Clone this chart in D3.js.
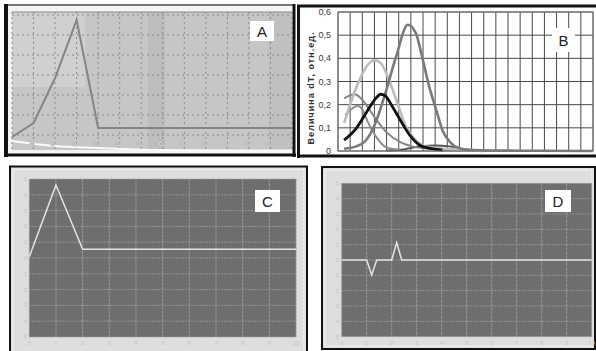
<!DOCTYPE html>
<html>
<head>
<meta charset="utf-8">
<script src="https://cdn.jsdelivr.net/npm/d3@7"></script>
<style>
  html, body { margin: 0; padding: 0; background: #fff; }
  svg { display: block; font-family: "Liberation Sans", Arial, sans-serif; }
</style>
</head>
<body>
<svg id="chart" width="596" height="351"></svg>
<script>
// ---- data ----
// panel A: response line, white base line, tick markers along the bottom
const aX = [0, 1, 2, 3, 4, 13];
const aY = [-0.1, 0.6, 2.85, 5.75, 0.35, 0.35];
const aBaseX = [0, 2, 4, 6.7, 13];
const aBaseY = [-0.3, -0.55, -0.65, -0.75, -0.78];
const aMarks = [0.93, 1.9, 2.9, 3.9, 4.9, 5.9, 6.9, 7.9, 8.9, 9.9, 10.9, 11.9, 12.9];

// panel B: dT curves
const bTicks = [0, 0.1, 0.2, 0.3, 0.4, 0.5, 0.6];
const bTickLabels = ["0", "0,1", "0,2", "0,3", "0,4", "0,5", "0,6"];
const bBigX = [0.5, 1.5, 2.2, 3, 3.9, 4.8, 5.75, 6.4, 7, 7.5, 8.1, 8.6, 9.2, 10, 11, 13, 16, 21];
const bBigY = [0.01, 0.02, 0.04, 0.11, 0.25, 0.41, 0.545, 0.51, 0.39, 0.28, 0.175, 0.09, 0.04, 0.012, 0.004, 0.002, 0.001, 0];
const bLightX = [0.5, 1.76, 2.44, 3, 3.54, 4.1, 4.8, 5.6, 6.4, 7.25, 8.35, 10.5, 12];
const bLightY = [0.12, 0.306, 0.371, 0.393, 0.378, 0.32, 0.22, 0.105, 0.047, 0.019, 0.012, 0.006, 0];
const bBlackX = [0.5, 1.5, 2.3, 3, 3.54, 3.95, 4.5, 5.2, 5.9, 6.7, 7.5, 8.6];
const bBlackY = [0.047, 0.098, 0.163, 0.22, 0.245, 0.235, 0.19, 0.127, 0.069, 0.026, 0.012, 0.004];
const bMid1X = [0.5, 1.35, 1.9, 2.44, 3.27, 4.1, 5.05, 6.15, 7.5, 9.2];
const bMid1Y = [0.227, 0.245, 0.227, 0.19, 0.127, 0.076, 0.04, 0.019, 0.009, 0.004];
const bMid2X = [0.6, 1.62, 2.03, 2.44, 3.13, 3.95, 5.05];
const bMid2Y = [0.155, 0.194, 0.177, 0.127, 0.062, 0.017, 0.006];
const bLowX = [4, 5.5, 6.8, 8, 9.2, 10.3, 12];
const bLowY = [0.002, 0.008, 0.02, 0.024, 0.02, 0.005, 0.001];

// panel C
const cX = [0, 1, 2, 10];
const cY = [0.08, 4.62, 0.55, 0.55];

// panel D
const dX = [0, 1, 1.2, 1.4, 2, 2.2, 2.4, 10];
const dY = [0, 0, -0.97, 0, 0, 1.13, 0, 0];

const ticks10 = d3.range(0, 11);
const ticksPm5 = d3.range(-5, 6);

const svg = d3.select("#chart");

function zip(xs, ys) { return xs.map((x, i) => ({x, y: ys[i]})); }

function labelBox(g, x, y, w, h, txt) {
    g.append("rect").attr("x", x).attr("y", y).attr("width", w).attr("height", h).attr("fill", "#fff");
    g.append("text").attr("x", x + w / 2).attr("y", y + h / 2 + 5.5)
        .attr("text-anchor", "middle").attr("font-size", "15px").attr("fill", "#222").text(txt);
}

// ---------- panel A ----------
const gA = svg.append("g");
const xA = d3.scaleLinear().domain([0, 13]).range([12, 292]);
const yA = d3.scaleLinear().domain([0, 6]).range([135, 15]);

gA.append("rect").attr("x", 6).attr("y", 5).attr("width", 288).attr("height", 150).attr("fill", "#f4f4f4");
gA.append("rect").attr("x", xA(0)).attr("y", yA(6.15)).attr("width", xA(13) - xA(0)).attr("height", yA(-0.75) - yA(6.15)).attr("fill", "#c6c6c6");
gA.append("rect").attr("x", xA(0)).attr("y", yA(6.15)).attr("width", xA(3.4) - xA(0)).attr("height", yA(2.4) - yA(6.15)).attr("fill", "#d0d0d0");
gA.append("rect").attr("x", xA(6.3)).attr("y", yA(6.15)).attr("width", xA(7.1) - xA(6.3)).attr("height", yA(-0.75) - yA(6.15)).attr("fill", "#bdbdbd");
gA.append("rect").attr("x", xA(11.9)).attr("y", yA(6.15)).attr("width", xA(13) - xA(11.9)).attr("height", yA(-0.75) - yA(6.15)).attr("fill", "#c0c0c0");

gA.selectAll(".gvA").data(d3.range(0, 14)).join("line")
    .attr("x1", d => xA(d)).attr("x2", d => xA(d)).attr("y1", yA(6.15)).attr("y2", yA(-0.75))
    .attr("stroke", "#8a8a8a").attr("stroke-dasharray", "2,3");
gA.selectAll(".ghA").data(d3.range(0, 7)).join("line")
    .attr("x1", xA(0)).attr("x2", xA(13)).attr("y1", d => yA(d)).attr("y2", d => yA(d))
    .attr("stroke", "#8a8a8a").attr("stroke-dasharray", "2,3");
gA.append("line").attr("x1", xA(0)).attr("x2", xA(13)).attr("y1", yA(6.15)).attr("y2", yA(6.15)).attr("stroke", "#888");

gA.append("path").datum(zip(aBaseX, aBaseY))
    .attr("d", d3.line().x(d => xA(d.x)).y(d => yA(d.y)).curve(d3.curveMonotoneX))
    .attr("fill", "none").attr("stroke", "#fafafa").attr("stroke-width", 2);
gA.append("path").datum(zip(aX, aY)).attr("d", d3.line().x(d => xA(d.x)).y(d => yA(d.y)))
    .attr("fill", "none").attr("stroke", "#858585").attr("stroke-width", 2);
gA.selectAll(".mk").data(aMarks).join("circle")
    .attr("cx", d => xA(d)).attr("cy", yA(-0.45)).attr("r", 2.2)
    .attr("fill", "#eee").attr("stroke", "#999").attr("stroke-width", 0.6);
gA.selectAll(".mkc").data(aMarks).join("circle")
    .attr("cx", d => xA(d)).attr("cy", yA(-0.45)).attr("r", 0.8).attr("fill", "#555");

gA.append("line").attr("x1", 5).attr("x2", 295).attr("y1", 5).attr("y2", 5).attr("stroke", "#777").attr("stroke-width", 2);
gA.append("line").attr("x1", 6).attr("x2", 6).attr("y1", 4).attr("y2", 157).attr("stroke", "#111").attr("stroke-width", 4);
gA.append("line").attr("x1", 4).attr("x2", 296).attr("y1", 155).attr("y2", 155).attr("stroke", "#111").attr("stroke-width", 3);
gA.append("line").attr("x1", 294).attr("x2", 294).attr("y1", 4).attr("y2", 157).attr("stroke", "#111").attr("stroke-width", 3);
labelBox(gA, 250, 21, 24, 20, "A");

// ---------- panel B ----------
const gB = svg.append("g");
const xB = d3.scaleLinear().domain([0, 21]).range([338, 593]);
const yB = d3.scaleLinear().domain([0, 0.6]).range([151, 12]);

gB.selectAll(".gvB").data(d3.range(0, 22)).join("line")
    .attr("x1", d => xB(d)).attr("x2", d => xB(d)).attr("y1", yB(0.6)).attr("y2", yB(0))
    .attr("stroke", "#4a4a4a").attr("stroke-width", 1);
gB.selectAll(".ghB").data(bTicks).join("line")
    .attr("x1", xB(0)).attr("x2", xB(21)).attr("y1", d => yB(d)).attr("y2", d => yB(d))
    .attr("stroke", "#4a4a4a").attr("stroke-width", 1);
gB.selectAll(".tB").data(bTicks).join("text")
    .attr("x", 331).attr("y", d => yB(d) + 3).attr("text-anchor", "end")
    .attr("font-size", "9px").attr("fill", "#3a3a3a").text((d, i) => bTickLabels[i]);
gB.append("text").attr("transform", "translate(314," + yB(0.27) + ") rotate(-90)")
    .attr("text-anchor", "middle").attr("font-size", "9px").attr("font-weight", "bold")
    .attr("fill", "#333").attr("textLength", 112).attr("lengthAdjust", "spacing")
    .text("Величина dT, отн.ед.");

const lineB = d3.line().x(d => xB(d.x)).y(d => yB(d.y)).curve(d3.curveMonotoneX);
const curves = [
    {x: bLowX, y: bLowY, c: "#555", w: 2},
    {x: bMid2X, y: bMid2Y, c: "#8e8e8e", w: 2},
    {x: bMid1X, y: bMid1Y, c: "#858585", w: 2},
    {x: bLightX, y: bLightY, c: "#bcbcbc", w: 2.6},
    {x: bBigX, y: bBigY, c: "#7a7a7a", w: 2.6},
    {x: bBlackX, y: bBlackY, c: "#111", w: 2.8}
];
curves.forEach(s => {
    gB.append("path").datum(zip(s.x, s.y)).attr("d", lineB)
        .attr("fill", "none").attr("stroke", s.c).attr("stroke-width", s.w);
});
gB.append("rect").attr("x", xB(0)).attr("y", yB(0.6)).attr("width", xB(21) - xB(0)).attr("height", yB(0) - yB(0.6))
    .attr("fill", "none").attr("stroke", "#777");
labelBox(gB, 552, 28, 23, 24, "B");

gB.append("line").attr("x1", 297).attr("x2", 596).attr("y1", 6).attr("y2", 6).attr("stroke", "#111").attr("stroke-width", 3);
gB.append("line").attr("x1", 298.5).attr("x2", 298.5).attr("y1", 5).attr("y2", 158).attr("stroke", "#111").attr("stroke-width", 3);
gB.append("line").attr("x1", 297).attr("x2", 596).attr("y1", 156).attr("y2", 156).attr("stroke", "#111").attr("stroke-width", 3);

// ---------- panels C and D (scope style) ----------
function scope(x0, x1, y0, y1, frame, xs, ys, label, lbl, tickX) {
    const g = svg.append("g");
    g.append("rect").attr("x", frame[0]).attr("y", frame[1]).attr("width", frame[2]).attr("height", frame[3])
        .attr("fill", "#dedede").attr("stroke", "#111").attr("stroke-width", 2);
    g.append("rect").attr("x", frame[0] + 3).attr("y", frame[1] + 3).attr("width", frame[2] - 6).attr("height", frame[3] - 6)
        .attr("fill", "none").attr("stroke", "#ececec").attr("stroke-width", 1.5);
    const x = d3.scaleLinear().domain([0, 10]).range([x0, x1]);
    const y = d3.scaleLinear().domain([-5, 5]).range([y1, y0]);
    g.append("rect").attr("x", x(0)).attr("y", y(5)).attr("width", x(10) - x(0)).attr("height", y(-5) - y(5)).attr("fill", "#6e6e6e");
    g.selectAll(".gv").data(ticks10).join("line")
        .attr("x1", d => x(d)).attr("x2", d => x(d)).attr("y1", y(5)).attr("y2", y(-5))
        .attr("stroke", "#999").attr("stroke-dasharray", "3,1");
    g.selectAll(".gh").data(ticksPm5).join("line")
        .attr("x1", x(0)).attr("x2", x(10)).attr("y1", d => y(d)).attr("y2", d => y(d))
        .attr("stroke", "#a0a0a0").attr("stroke-dasharray", "1.5,1.5");
    g.selectAll(".tx").data(ticks10).join("text")
        .attr("x", d => x(d)).attr("y", y(-5) + 8).attr("text-anchor", "middle")
        .attr("font-size", "6px").attr("fill", "#c4c4c4").text(d => d);
    g.selectAll(".ty").data(ticksPm5).join("text")
        .attr("x", tickX).attr("y", d => y(d) + 2).attr("text-anchor", "end")
        .attr("font-size", "6px").attr("fill", "#c4c4c4").text(d => d);
    g.append("path").datum(zip(xs, ys)).attr("d", d3.line().x(d => x(d.x)).y(d => y(d.y)))
        .attr("fill", "none").attr("stroke", "#e4e4e4").attr("stroke-width", 1.5);
    labelBox(g, lbl[0], lbl[1], lbl[2], lbl[3], label);
}

scope(29.3, 296, 179, 337, [10, 166.5, 297, 190], cX, cY, "C", [255, 190, 25, 22], 27);
scope(341.7, 591.7, 183.3, 336.7, [322, 167, 273, 182], dX, dY, "D", [545, 190, 26, 22], 339);
</script>
</body>
</html>
